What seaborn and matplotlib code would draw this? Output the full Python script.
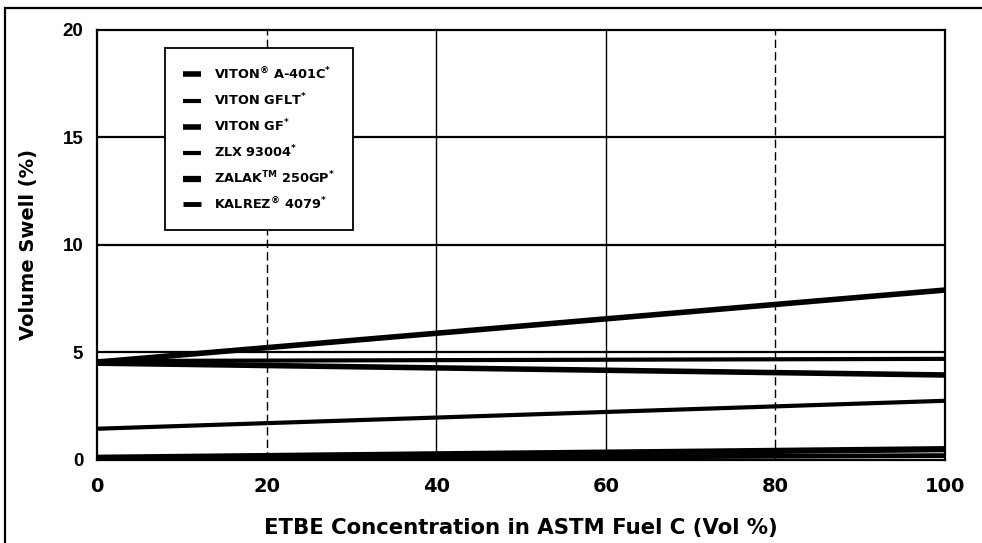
import numpy as np
import pandas as pd
import matplotlib
matplotlib.use("Agg")
import matplotlib.pyplot as plt
import seaborn as sns

# ETBE concentration endpoints (vol %)
etbe = [0, 100]

# volume swell (%) read at 0 and 100 vol % ETBE
viton_a401c = [4.55, 7.9]
viton_gflt = [4.6, 4.7]
viton_gf = [4.5, 3.95]
zlx_93004 = [1.45, 2.75]
zalak_250gp = [0.1, 0.5]
kalrez_4079 = [0.05, 0.2]

names = [r"VITON$^{\circledR}$ A-401C$^{*}$", r"VITON GFLT$^{*}$", r"VITON GF$^{*}$",
         r"ZLX 93004$^{*}$", r"ZALAK$^{\rm TM}$ 250GP$^{*}$", r"KALREZ$^{\circledR}$ 4079$^{*}$"]
series = [viton_a401c, viton_gflt, viton_gf, zlx_93004, zalak_250gp, kalrez_4079]
widths = [4.0, 3.0, 4.0, 3.0, 4.5, 3.5]

rows = []
for n, s in zip(names, series):
    for x, v in zip(etbe, s):
        rows.append({"etbe": x, "swell": v, "material": n})
df = pd.DataFrame(rows)

sns.set_theme(style="white")
plt.rcParams['font.family'] = ['DejaVu Sans']
plt.rcParams['text.color'] = 'black'
plt.rcParams['axes.labelcolor'] = 'black'
plt.rcParams['mathtext.fontset'] = 'custom'
plt.rcParams['mathtext.rm'] = 'DejaVu Sans:bold'
plt.rcParams['mathtext.it'] = 'DejaVu Sans:bold'
plt.rcParams['mathtext.bf'] = 'DejaVu Sans:bold'

fig = plt.figure(figsize=(9.82, 5.43), dpi=100)
ax = fig.add_axes([0.0988, 0.153, 0.8635, 0.792])

# grid drawn by hand to mimic the scan: dashed at 20/80, solid at 40/60
for yv in [5, 10, 15]:
    ax.axhline(yv, color="black", lw=1.6, zorder=1)
for xv, ls in [(20, (0, (6, 3))), (40, "-"), (60, "-"), (80, (0, (6, 3)))]:
    ax.axvline(xv, color="black", lw=1.0, ls=ls, zorder=1)

palette = {n: "black" for n in names}
sns.lineplot(data=df, x="etbe", y="swell", hue="material", palette=palette,
             ax=ax, legend=False, zorder=3)
for line, w in zip(ax.get_lines()[-len(names):], widths):
    line.set_linewidth(w)
    line.set_solid_capstyle("butt")

ax.set_xlim(0, 100)
ax.set_ylim(0, 20)
ax.set_xticks([0, 20, 40, 60, 80, 100])
ax.set_yticks([0, 5, 10, 15, 20])
ax.tick_params(axis="x", length=0, labelsize=14, labelcolor="black", pad=12)
ax.tick_params(axis="y", length=0, labelsize=13.5, labelcolor="black", pad=10)
for t in ax.get_xticklabels():
    t.set_fontweight("bold")
for t in ax.get_yticklabels():
    t.set_fontweight("bold")
    t.set_family("Liberation Sans")

ax.set_xlabel("ETBE Concentration in ASTM Fuel C (Vol %)", fontsize=15.3,
              fontweight="bold", color="black")
ax.set_ylabel("Volume Swell (%)", fontsize=14, fontweight="bold", color="black")
ax.xaxis.set_label_coords(0.5, -0.158)
ax.xaxis.label.set_va("center")
ax.yaxis.set_label_coords(-0.081, 0.5)
ax.yaxis.label.set_va("center")
ax.yaxis.label.set_ha("center")
for sp in ax.spines.values():
    sp.set_color("black")
    sp.set_linewidth(1.6)

handles = [plt.Line2D([], [], color="black", lw=w, solid_capstyle="butt") for w in widths]
leg = ax.legend(handles, names, loc="upper left", bbox_to_anchor=(0.080, 0.958),
                frameon=True, fancybox=False, edgecolor="black", framealpha=1,
                fontsize=9.3, handlelength=1.4, handletextpad=1.0, labelspacing=0.74,
                borderpad=1.4, borderaxespad=0)
leg.get_frame().set_linewidth(1.3)
leg.get_frame().set_edgecolor("black")
for t in leg.get_texts():
    t.set_fontweight("bold")
    t.set_color("black")

# outer border of the scanned figure
fig.patches.append(plt.Rectangle((0.005, -0.01), 1.2, 0.995, transform=fig.transFigure,
                                 fill=False, edgecolor="black", lw=1.6))

fig.savefig("out.png", dpi=100)
